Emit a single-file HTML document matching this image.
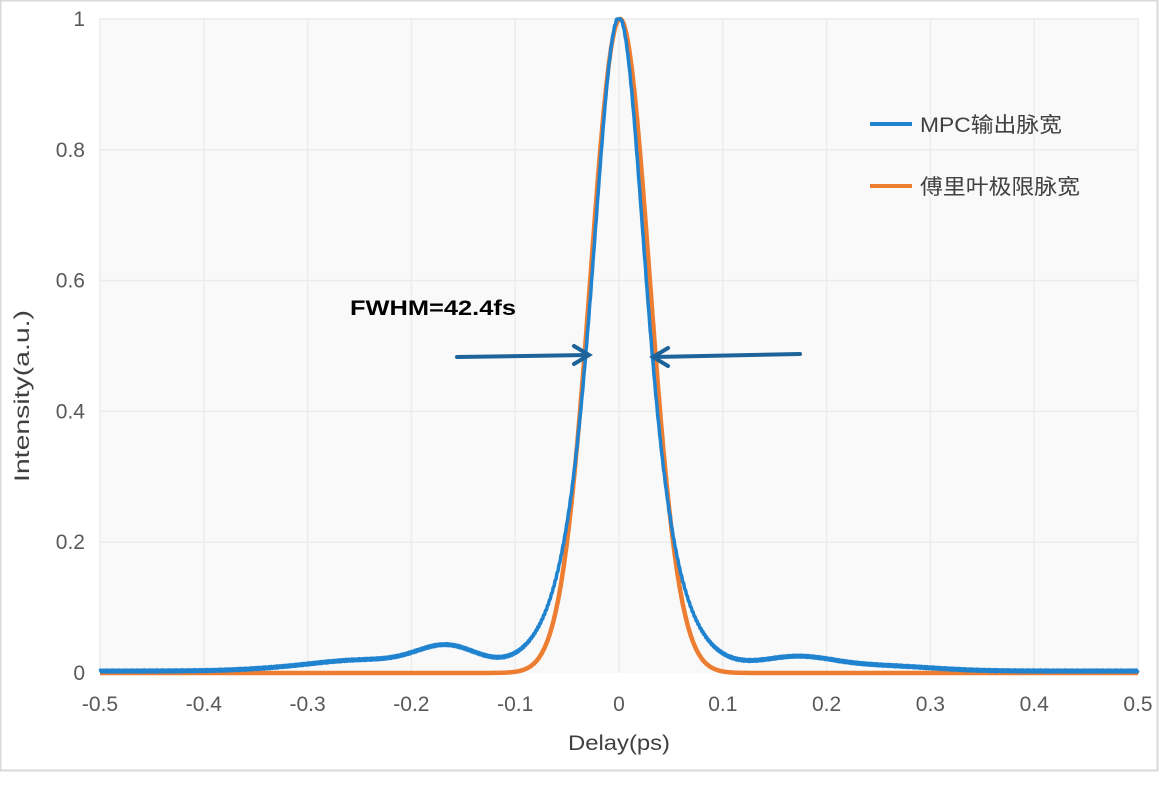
<!DOCTYPE html>
<html><head><meta charset="utf-8"><style>
body{margin:0;background:#fff;}
svg{display:block;font-family:"Liberation Sans","Noto Sans CJK SC",sans-serif;}
</style></head><body>
<svg id="s" width="1160" height="787" xmlns="http://www.w3.org/2000/svg">
<rect x="0.5" y="0.5" width="1157" height="770" fill="#fff" stroke="#d9d9d9" stroke-width="2"/>
<rect x="100" y="18" width="1038" height="655" fill="#f9f9f9"/>
<g id="grid" stroke="#ececec" stroke-width="1.5"></g>
<g id="lbl" fill="#595959" font-size="21"></g>
<path id="po" fill="none" stroke="#ed7d31" stroke-width="4.5" stroke-linejoin="round"/>
<path id="pb" fill="none" stroke="#2083d0" stroke-width="3.5" stroke-linejoin="round"/>
<text x="350" y="315" font-size="21" font-weight="bold" fill="#000" textLength="166" lengthAdjust="spacingAndGlyphs">FWHM=42.4fs</text>
<g stroke="#1d6399" stroke-width="4" fill="none" stroke-linecap="round">
<line x1="457" y1="357" x2="588" y2="355"/><polyline points="574,346 589,355 574,364"/>
<line x1="800" y1="354" x2="654" y2="357"/><polyline points="668,348 653,357 668,366"/>
</g>
<line x1="870" y1="124" x2="912" y2="124" stroke="#2083d0" stroke-width="4"/>
<text x="920" y="132" font-size="21" fill="#404040" textLength="142" lengthAdjust="spacingAndGlyphs">MPC输出脉宽</text>
<line x1="870" y1="186" x2="912" y2="186" stroke="#ed7d31" stroke-width="4"/>
<text x="920" y="194" font-size="21" fill="#404040" textLength="160" lengthAdjust="spacingAndGlyphs">傅里叶极限脉宽</text>
<text x="568" y="750" font-size="21" fill="#404040" textLength="102" lengthAdjust="spacingAndGlyphs">Delay(ps)</text>
<text transform="translate(29,482) rotate(-90)" font-size="21" fill="#404040" textLength="172" lengthAdjust="spacingAndGlyphs">Intensity(a.u.)</text>
</svg>
<script>
const X=x=>619+x*1038,Y=v=>673-v*654;
let g=document.getElementById('grid'),l=document.getElementById('lbl'),h='',t='';
for(let i=-5;i<=5;i++){let x=X(i/10);h+=`<line x1="${x}" y1="18" x2="${x}" y2="673"/>`;
t+=`<text x="${x}" y="711" text-anchor="middle">${i==0?'0':(i/10).toFixed(1)}</text>`;}
for(let j=0;j<=5;j++){let v=j/5,y=Y(v);if(j>0)h+=`<line x1="100" y1="${y}" x2="1138" y2="${y}"/>`;
t+=`<text x="85" y="${y+7}" text-anchor="end">${j==0?'0':j==5?'1':v.toFixed(1)}</text>`;}
g.innerHTML=h;l.innerHTML=t;
const s2=x=>{let c=Math.cosh(x);return 1/(c*c)};
const G=(x,m,s)=>Math.exp(-(x-m)*(x-m)/(2*s*s));
let po='',pb='';
for(let i=0;i<=2000;i++){let x=-0.5+i/2000;
let o=G(x,0.001,0.0285);
let b=0.88*s2(x/0.033)+0.12*G(x,0,0.05)+0.036*G(x,-0.165,0.03)+0.014*G(x,-0.24,0.045)+0.005*G(x,-0.3,0.05)
+0.02*G(x,0.17,0.035)+0.008*G(x,0.25,0.05)+0.003+0.0015*Math.sin(i*1.7);
po+=(i?'L':'M')+X(x).toFixed(1)+' '+Y(o).toFixed(1);
pb+=(i?'L':'M')+X(x).toFixed(1)+' '+Y(Math.min(b,1)).toFixed(1);}
document.getElementById('po').setAttribute('d',po);
document.getElementById('pb').setAttribute('d',pb);
</script>
</body></html>
